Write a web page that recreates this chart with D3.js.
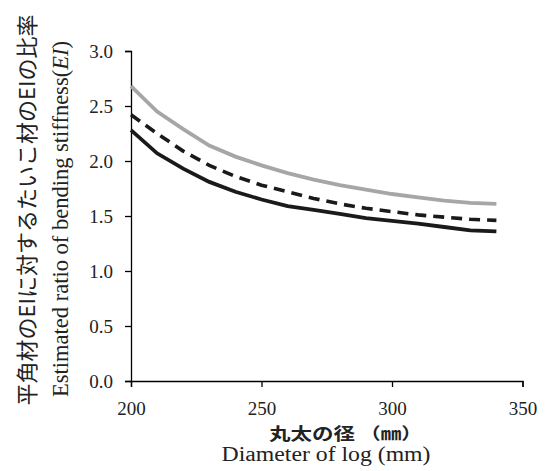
<!DOCTYPE html>
<html><head><meta charset="utf-8">
<script src="https://cdn.jsdelivr.net/npm/d3@7"></script>
<style>body{margin:0;background:#fff} .serif{font-family:"Liberation Serif","Times New Roman",serif}</style>
</head><body>
<svg id="c" width="548" height="471"></svg>
<script>
const diameters = [200,210,220,230,240,250,260,270,280,290,300,310,320,330,340];
const grayVals   = [2.68,2.45,2.29,2.14,2.04,1.96,1.89,1.83,1.78,1.74,1.70,1.67,1.64,1.62,1.61];
const dashedVals = [2.42,2.25,2.09,1.96,1.86,1.78,1.72,1.66,1.61,1.57,1.54,1.51,1.49,1.47,1.46];
const blackVals  = [2.28,2.07,1.93,1.81,1.72,1.65,1.59,1.555,1.52,1.48,1.455,1.43,1.40,1.37,1.36];
const xTicks = [200,250,300,350];
const yTicks = [0,0.5,1,1.5,2,2.5,3];

const svg = d3.select("#c");
const x = d3.scaleLinear().domain([200,350]).range([131,522.5]);
const y = d3.scaleLinear().domain([0,3]).range([381,51]);
const gothic = "'Noto Sans CJK JP','Noto Sans CJK SC',sans-serif";

const xa = svg.append("g").attr("transform","translate(0,381)")
  .call(d3.axisBottom(x).tickValues(xTicks).tickFormat(d3.format("d")).tickSizeOuter(0).tickSize(6));
const ya = svg.append("g").attr("transform","translate(131,0)")
  .call(d3.axisLeft(y).tickValues(yTicks).tickFormat(d3.format(".1f")).tickSizeOuter(0).tickSize(6));
[xa,ya].forEach(a=>{
  a.attr("font-family",null).attr("font-size",null);
  a.selectAll("path,line").attr("stroke","#000").attr("stroke-width",1.3);
  a.selectAll("text").attr("class","serif").style("font-size","19px").attr("fill","#222");
});
xa.selectAll("text").attr("y",34).attr("dy",0);
ya.selectAll("text").attr("x",-18).attr("dy","0.34em");

const line = d3.line().x((d,i)=>x(diameters[i])).y(d=>y(d));
svg.append("path").datum(grayVals).attr("d",line).attr("fill","none")
  .attr("stroke","#a6a6a6").attr("stroke-width",3.8);
svg.append("path").datum(dashedVals).attr("d",line).attr("fill","none")
  .attr("stroke","#1a1a1a").attr("stroke-width",3.6).attr("stroke-dasharray","11,7");
svg.append("path").datum(blackVals).attr("d",line).attr("fill","none")
  .attr("stroke","#1a1a1a").attr("stroke-width",3.8);

svg.append("text").attr("x",269).attr("y",440)
  .attr("textLength",86).attr("lengthAdjust","spacingAndGlyphs")
  .style("font-family",gothic).style("font-size","16.5px")
  .attr("font-weight","bold").attr("fill","#222")
  .text("丸太の径");
svg.append("text").attr("x",360).attr("y",440)
  .attr("textLength",62).attr("lengthAdjust","spacingAndGlyphs")
  .style("font-family",gothic).style("font-size","16.5px")
  .attr("font-weight","bold").attr("fill","#222")
  .text("（㎜）");
svg.append("text").attr("x",326).attr("y",461).attr("text-anchor","middle")
  .attr("textLength",209).attr("lengthAdjust","spacingAndGlyphs")
  .attr("class","serif").style("font-size","20px").attr("fill","#222")
  .text("Diameter of log (mm)");

svg.append("text").attr("transform","translate(35,210) rotate(-90)").attr("text-anchor","middle")
  .style("font-family",gothic).style("font-size","22px").attr("fill","#222")
  .text("平角材のEIに対するたいこ材のEIの比率");
const t2 = svg.append("text").attr("transform","translate(68,219) rotate(-90)").attr("text-anchor","middle")
  .attr("class","serif").style("font-size","22.5px").attr("fill","#222");
t2.append("tspan").text("Estimated ratio of bending stiffness(");
t2.append("tspan").attr("font-style","italic").text("EI");
t2.append("tspan").text(")");
</script>
</body></html>
